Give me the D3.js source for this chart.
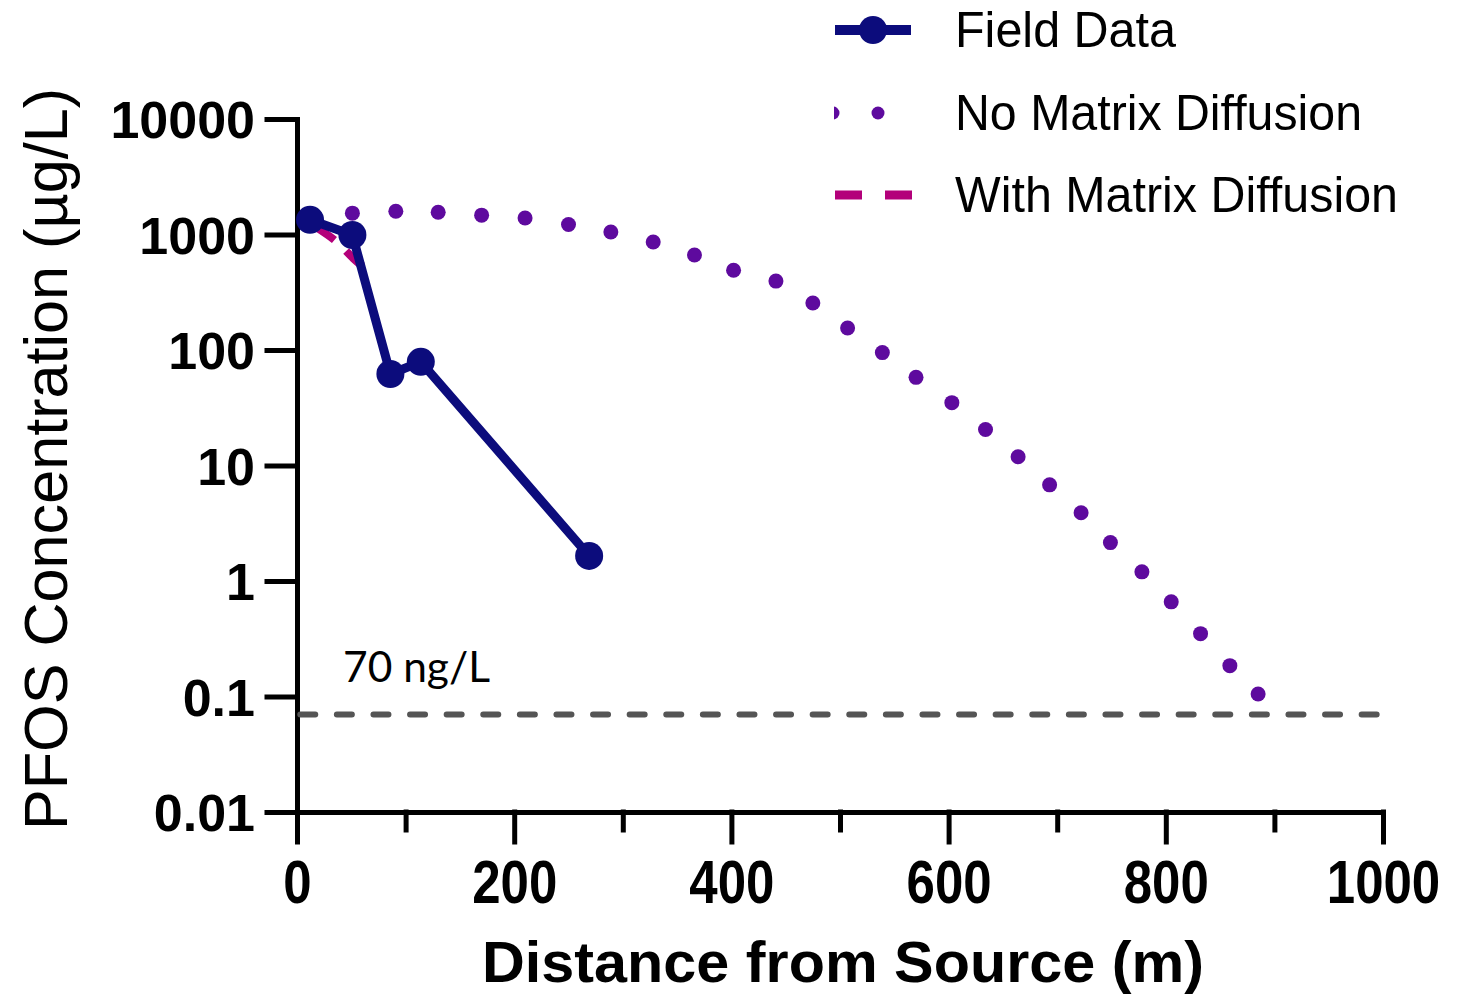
<!DOCTYPE html>
<html>
<head>
<meta charset="utf-8">
<script src="https://cdn.jsdelivr.net/npm/d3@7"></script>
<style>
  body { margin: 0; background: #fff; }
  svg { display: block; font-family: "Liberation Sans", Arial, sans-serif; }
</style>
</head>
<body>
<svg id="chart" width="1465" height="997"></svg>
<script>
// Field data (distance m, PFOS ug/L)
const fieldX = [12, 51, 86, 114, 269];
const fieldY = [1340, 990, 62, 79, 1.65];

// No Matrix Diffusion (dotted model curve, one value per dot)
const noMdX = [51, 91, 130, 170, 210, 250, 289, 328, 366, 402, 441, 475, 507, 539, 570, 603, 634, 664, 693, 722, 749, 778, 805, 832, 859, 885];
const noMdY = [1530, 1590, 1560, 1470, 1390, 1220, 1050, 860, 665, 490, 395, 255, 155, 95, 58, 35, 20.5, 11.9, 6.8, 3.9, 2.15, 1.2, 0.66, 0.35, 0.185, 0.105];

// With Matrix Diffusion (only a small piece is visible)
const withMdX = [18, 38, 52, 66];
const withMdY = [1150, 840, 620, 480];

// Regulatory level, 70 ng/L
const limitValue = 0.07;
const limitRange = [3, 998];

const xMajor = [0, 200, 400, 600, 800, 1000];
const xMinor = [100, 300, 500, 700, 900];
const yTicks = [0.01, 0.1, 1, 10, 100, 1000, 10000];
const yTickLabels = ["0.01", "0.1", "1", "10", "100", "1000", "10000"];

const legendLabels = ["Field Data", "No Matrix Diffusion", "With Matrix Diffusion"];

// couleurs
const colorField = '#0c0c7c';
const colorNoMd = '#5e0a9e';
const colorWithMd = '#b3007a';
const colorLimit = '#555555';

const svg = d3.select("#chart");

const x = d3.scaleLinear().domain([0, 1000]).range([297, 1383]);
const y = d3.scaleLog().domain([0.01, 10000]).range([812, 119]);

// Axe X : grands et petits traits
const xAxisG = svg.append("g")
  .attr("transform", `translate(0, ${y(0.01)})`)
  .call(d3.axisBottom(x).tickValues(xMajor).tickSize(30).tickSizeOuter(0).tickPadding(0)
    .tickFormat(d3.format("d")));

svg.append("g")
  .attr("transform", `translate(0, ${y(0.01)})`)
  .call(d3.axisBottom(x).tickValues(xMinor).tickSize(18).tickSizeOuter(0).tickFormat(""))
  .call(g => g.select(".domain").remove());

xAxisG.selectAll("text")
  .attr("y", 0)
  .attr("dy", null)
  .attr("transform", "translate(0, 91) scale(1, 1.2)")
  .attr("fill", "#000")
  .style("font-size", "51px")
  .style("font-weight", "bold");

// Axe Y logarithmique
const yAxisG = svg.append("g")
  .attr("transform", `translate(${x(0)}, 0)`)
  .call(d3.axisLeft(y).tickValues(yTicks).tickSize(30).tickSizeOuter(0).tickPadding(12)
    .tickFormat((d, i) => yTickLabels[i]));

yAxisG.selectAll("text")
  .attr("dy", "0.36em")
  .attr("fill", "#000")
  .style("font-size", "52px")
  .style("font-weight", "bold");

svg.selectAll(".domain, .tick line")
  .attr("stroke", "#000")
  .attr("stroke-width", 5)
  .attr("stroke-linecap", "square");

// Titres des axes
svg.append("text")
  .attr("x", 843)
  .attr("y", 982)
  .attr("text-anchor", "middle")
  .attr("textLength", 722)
  .attr("lengthAdjust", "spacingAndGlyphs")
  .style("font-size", "58px")
  .style("font-weight", "bold")
  .text("Distance from Source (m)");

svg.append("text")
  .attr("transform", "translate(67, 459) rotate(-90)")
  .attr("text-anchor", "middle")
  .attr("textLength", 742)
  .attr("lengthAdjust", "spacingAndGlyphs")
  .style("font-size", "62px")
  .text("PFOS Concentration (\u00b5g/L)");

// Ligne du seuil 70 ng/L
svg.append("line")
  .attr("x1", x(limitRange[0]))
  .attr("x2", x(limitRange[1]))
  .attr("y1", y(limitValue))
  .attr("y2", y(limitValue))
  .attr("stroke", colorLimit)
  .attr("stroke-width", 6)
  .attr("stroke-linecap", "round")
  .attr("stroke-dasharray", "15 21.6");

svg.append("text")
  .attr("x", 343)
  .attr("y", 682)
  .attr("textLength", 147)
  .attr("lengthAdjust", "spacingAndGlyphs")
  .style("font-family", "Lato, 'Open Sans', sans-serif")
  .style("font-size", "42px")
  .text("70 ng/L");

// With Matrix Diffusion (fragment)
const withData = withMdX.map((d, i) => ({x: d, y: withMdY[i]}));
svg.append("path")
  .datum(withData)
  .attr("fill", "none")
  .attr("stroke", colorWithMd)
  .attr("stroke-width", 8)
  .attr("stroke-dasharray", "22 16")
  .attr("d", d3.line().x(d => x(d.x)).y(d => y(d.y)).curve(d3.curveMonotoneX));

// No Matrix Diffusion : points
const noMdData = noMdX.map((d, i) => ({x: d, y: noMdY[i]}));
svg.append("g")
  .selectAll("circle")
  .data(noMdData)
  .enter()
  .append("circle")
  .attr("cx", d => x(d.x))
  .attr("cy", d => y(d.y))
  .attr("r", 7.5)
  .attr("fill", colorNoMd);

// Field data
const fieldData = fieldX.map((d, i) => ({x: d, y: fieldY[i]}));
svg.append("path")
  .datum(fieldData)
  .attr("fill", "none")
  .attr("stroke", colorField)
  .attr("stroke-width", 9)
  .attr("stroke-linejoin", "round")
  .attr("d", d3.line().x(d => x(d.x)).y(d => y(d.y)));

svg.append("g")
  .selectAll("circle")
  .data(fieldData)
  .enter()
  .append("circle")
  .attr("cx", d => x(d.x))
  .attr("cy", d => y(d.y))
  .attr("r", 14)
  .attr("fill", colorField);

// Légende
const legend = svg.append("g");
const legendY = [30, 113, 195];
const legendLengths = [221, 407, 443];

legend.append("line")
  .attr("x1", 835).attr("x2", 911)
  .attr("y1", legendY[0]).attr("y2", legendY[0])
  .attr("stroke", colorField).attr("stroke-width", 10);
legend.append("circle")
  .attr("cx", 873).attr("cy", legendY[0]).attr("r", 14)
  .attr("fill", colorField);

legend.append("clipPath").attr("id", "legClip")
  .append("rect").attr("x", 834).attr("y", 90).attr("width", 80).attr("height", 50);
legend.append("g").attr("clip-path", "url(#legClip)")
  .selectAll("circle")
  .data([833, 878])
  .enter()
  .append("circle")
  .attr("cx", d => d).attr("cy", legendY[1]).attr("r", 6.5)
  .attr("fill", colorNoMd);

legend.append("line")
  .attr("x1", 835).attr("x2", 912)
  .attr("y1", legendY[2]).attr("y2", legendY[2])
  .attr("stroke", colorWithMd).attr("stroke-width", 9)
  .attr("stroke-dasharray", "27 23");

legend.selectAll("text.leg")
  .data(legendLabels)
  .enter()
  .append("text")
  .attr("class", "leg")
  .attr("x", 955)
  .attr("y", (d, i) => legendY[i] + 17)
  .attr("textLength", (d, i) => legendLengths[i])
  .attr("lengthAdjust", "spacingAndGlyphs")
  .style("font-size", "50px")
  .text(d => d);
</script>
</body>
</html>
